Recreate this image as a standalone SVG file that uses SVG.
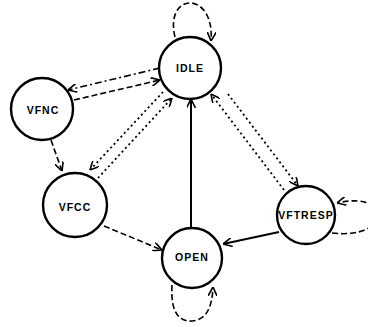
<svg xmlns="http://www.w3.org/2000/svg" width="368" height="327" viewBox="0 0 368 327">
<style>
.node{fill:#fff;stroke:#000;stroke-width:2.4}
.lbl{font-family:"Liberation Sans",Arial,sans-serif;font-weight:bold;font-size:10.5px;letter-spacing:1px;text-anchor:middle;dominant-baseline:central;fill:#000}
.c{fill:none;stroke:#000;stroke-width:1.6;marker-end:url(#ah)}
.solid{stroke-dasharray:none;stroke-width:2}
.dash{stroke-dasharray:6,3}
.dashdot{stroke-dasharray:7,3,2,3}
.dot{stroke-dasharray:2,3;stroke-width:1.8}
</style>
<defs>
<marker id="ah" viewBox="0 0 10 10" refX="10" refY="5" markerWidth="9" markerHeight="9" markerUnits="userSpaceOnUse" orient="auto">
<path d="M0,0 L10,5 L0,10" fill="none" stroke="#000" stroke-width="1.8"/>
</marker>
</defs>
<g id="connectors">
<path class="c dash" d="M175,37 C164,-8 215,-10 211,41"/>
<path class="c dashdot" d="M160,68 L68,90"/>
<path class="c dash" d="M74,100 L160,80"/>
<path class="c dash" d="M51,140 L62,171"/>
<path class="c dot" d="M163,92 L90,170"/>
<path class="c dot" d="M98,178 L172,98"/>
<path class="c dash" d="M104,226 L162,250"/>
<path class="c solid" d="M191,228 L191,99"/>
<path class="c dot" d="M228,94 L298,186"/>
<path class="c dot" d="M284,190 L211,94"/>
<path class="c dash" d="M332,233 C392,240 392,190 337,203"/>
<path class="c solid" d="M279,232 L223,244"/>
<path class="c dash" d="M172,285 C170,316 182,322 192,321 C205,320 212,310 213,287"/>
</g>
<g id="IDLE"><circle class="node" cx="190" cy="68" r="31"/><text class="lbl" x="190" y="68">IDLE</text></g>
<g id="VFNC"><circle class="node" cx="42" cy="109" r="31"/><text class="lbl" x="43" y="110">VFNC</text></g>
<g id="VFCC"><circle class="node" cx="75" cy="205" r="32"/><text class="lbl" x="75" y="207">VFCC</text></g>
<g id="OPEN"><circle class="node" cx="192" cy="258" r="30"/><text class="lbl" x="192" y="257">OPEN</text></g>
<g id="VFTRESP"><circle class="node" cx="306" cy="215" r="29"/><text class="lbl" x="306" y="215">VFTRESP</text></g>
</svg>
